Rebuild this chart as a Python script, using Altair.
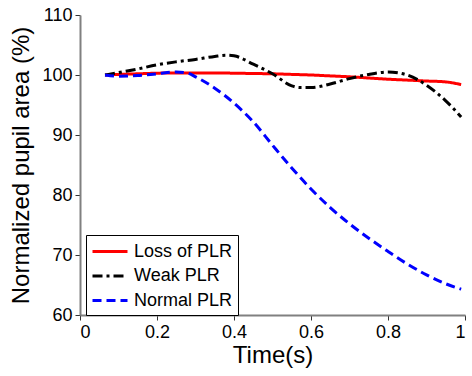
import altair as alt
import pandas as pd

series_names = ["Loss of PLR", "Weak PLR", "Normal PLR"]

t_loss = [0.065, 0.1, 0.15, 0.2, 0.25, 0.3, 0.35, 0.4, 0.45, 0.5, 0.55, 0.6, 0.65, 0.7, 0.75, 0.8, 0.85, 0.9, 0.95, 0.99]
v_loss = [100.0, 100.1, 100.2, 100.3, 100.35, 100.35, 100.35, 100.3, 100.25, 100.2, 100.1, 100.0, 99.85, 99.7, 99.5, 99.3, 99.15, 99.0, 98.85, 98.4]

t_weak = [0.065, 0.1, 0.15, 0.2, 0.25, 0.3, 0.35, 0.38, 0.4, 0.45, 0.5, 0.55, 0.57, 0.6, 0.65, 0.7, 0.75, 0.8, 0.85, 0.9, 0.95, 0.99]
v_weak = [100.0, 100.4, 101.0, 101.7, 102.2, 102.6, 103.1, 103.3, 103.2, 101.8, 100.2, 98.2, 97.9, 97.9, 98.5, 99.4, 100.1, 100.5, 100.0, 98.3, 95.7, 93.0]

t_norm = [0.065, 0.1, 0.15, 0.2, 0.25, 0.28, 0.3, 0.35, 0.4, 0.45, 0.5, 0.55, 0.6, 0.65, 0.7, 0.75, 0.8, 0.85, 0.9, 0.95, 0.99]
v_norm = [100.0, 99.8, 99.9, 100.2, 100.5, 100.3, 99.7, 97.8, 95.3, 92.2, 88.3, 84.5, 81.0, 77.9, 75.2, 72.8, 70.6, 68.5, 66.7, 65.2, 64.3]

x_ticks = [0, 0.2, 0.4, 0.6, 0.8, 1]
y_ticks = [60, 70, 80, 90, 100, 110]

rows = []
for name, ts, vs in zip(series_names, [t_loss, t_weak, t_norm], [v_loss, v_weak, v_norm]):
    for t, v in zip(ts, vs):
        rows.append({"series": name, "t": t, "v": v})
df = pd.DataFrame(rows)

font = "Liberation Sans"

chart = alt.Chart(df).mark_line(strokeWidth=3, interpolate="monotone").encode(
    x=alt.X("t:Q", scale=alt.Scale(domain=[0, 1], nice=False),
            axis=alt.Axis(values=x_ticks, format="~g", title="Time(s)")),
    y=alt.Y("v:Q", scale=alt.Scale(domain=[60, 110], nice=False, zero=False),
            axis=alt.Axis(values=y_ticks, title="Normalized pupil area (%)")),
    color=alt.Color("series:N",
                    scale=alt.Scale(domain=series_names, range=["#ff0000", "#000000", "#0000ff"]),
                    legend=alt.Legend(title=None, orient="none", legendX=6, legendY=220,
                                      symbolType="M-1,0H2.5", symbolSize=400, symbolStrokeWidth=3,
                                      labelFont=font, labelFontSize=18, labelColor="#000000",
                                      labelOffset=20, rowPadding=3.5, padding=5,
                                      strokeColor="#000000", fillColor="#ffffff")),
    strokeDash=alt.StrokeDash("series:N",
                              scale=alt.Scale(domain=series_names, range=[[1, 0], [10, 4, 3, 4], [9, 5]]),
                              legend=None),
    detail="series:N",
).properties(
    width=385, height=300,
    autosize=alt.AutoSizeParams(type="none"),
    padding={"left": 80, "top": 15, "right": 7, "bottom": 61},
).configure_view(stroke=None).configure_axis(
    grid=False,
    domainColor="#808080",
    domainWidth=2,
    tickColor="#333333",
    tickSize=5,
    labelFont=font,
    labelFontSize=18,
    labelColor="#000000",
    titleFont=font,
    titleFontSize=24,
    titleFontWeight="normal",
    titleColor="#000000",
    labelPadding=3,
).configure_axisY(titlePadding=8).configure_axisX(titlePadding=2)

chart.save("out.html", embed_options={"renderer": "svg", "actions": False})
